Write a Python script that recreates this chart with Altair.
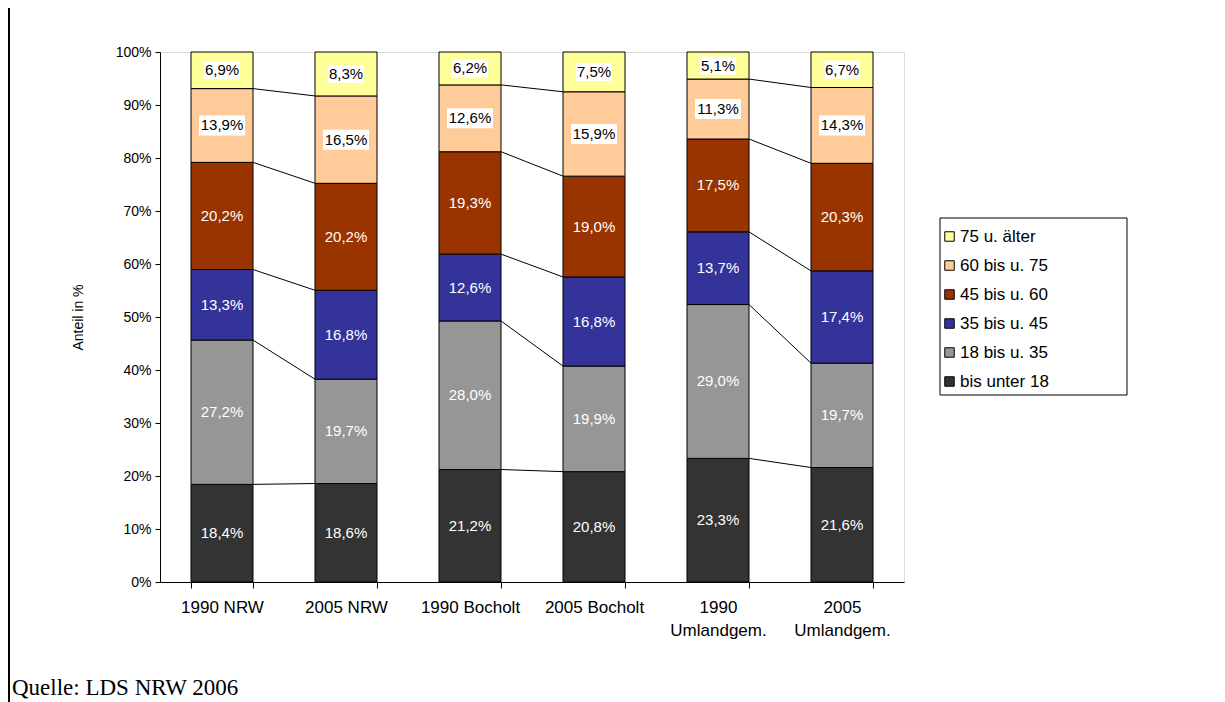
import altair as alt
import pandas as pd

categories = ["1990 NRW", "2005 NRW", "1990 Bocholt", "2005 Bocholt", "1990 Umlandgem.", "2005 Umlandgem."]
groups = ["bis unter 18", "18 bis u. 35", "35 bis u. 45", "45 bis u. 60", "60 bis u. 75", "75 u. älter"]
colors = ["#333333", "#969696", "#333399", "#993300", "#FFCC99", "#FFFF99"]
text_colors = ["#FFFFFF", "#FFFFFF", "#FFFFFF", "#FFFFFF", "#000000", "#000000"]

v_unter18 = [18.4, 18.6, 21.2, 20.8, 23.3, 21.6]
v_18_35 = [27.2, 19.7, 28.0, 19.9, 29.0, 19.7]
v_35_45 = [13.3, 16.8, 12.6, 16.8, 13.7, 17.4]
v_45_60 = [20.2, 20.2, 19.3, 19.0, 17.5, 20.3]
v_60_75 = [13.9, 16.5, 12.6, 15.9, 11.3, 14.3]
v_75 = [6.9, 8.3, 6.2, 7.5, 5.1, 6.7]
series = [v_unter18, v_18_35, v_35_45, v_45_60, v_60_75, v_75]
pairs = [(0, 1), (2, 3), (4, 5)]

# build tables (100 % stacked)
rows = []
tops = {}
for ci, cat in enumerate(categories):
    total = sum(s[ci] for s in series)
    cum = 0.0
    tops[ci] = []
    for gi, g in enumerate(groups):
        v = series[gi][ci]
        y0 = cum / total
        cum += v
        y1 = cum / total
        tops[ci].append(y1)
        lab = f"{v:.1f}".replace(".", ",") + "%"
        rows.append({"cat": cat, "group": g, "y0": y0, "y1": y1, "mid": (y0 + y1) / 2,
                     "label": lab, "tcolor": text_colors[gi], "light": gi >= 4,
                     "wide": len(lab) > 4})
df = pd.DataFrame(rows)

lrows = []
for a, b in pairs:
    for gi in range(len(groups) - 1):
        lrows.append({"from": categories[a], "to": categories[b], "ya": tops[a][gi], "yb": tops[b][gi]})
ldf = pd.DataFrame(lrows)

FONT = "Liberation Sans"
W, H = 744, 530
PADL, PADT, PADB = 152, 44, 128

xscale = alt.Scale(domain=categories, paddingInner=0.5, paddingOuter=0.25)
yscale = alt.Scale(domain=[0, 1], nice=False)

label_expr = "indexof(datum.label, 'Umland') >= 0 ? split(datum.label, ' ') : datum.label"

x_axis = alt.Axis(title=None, labelFont=FONT, labelFontSize=17, labelColor="#000000",
                  labelPadding=11, labelAngle=0, tickSize=6, tickColor="#000000",
                  domainColor="#000000", tickBand="extent", labelExpr=label_expr,
                  labelLineHeight=23, labelBaseline="top")
y_axis = alt.Axis(title="Anteil in %", format=".0%", values=[i / 10 for i in range(11)],
                  labelFont=FONT, labelFontSize=14, labelColor="#000000", tickSize=5,
                  tickColor="#000000", domainColor="#000000", grid=False, labelPadding=4,
                  titleFont=FONT, titleFontSize=14, titleFontWeight="normal",
                  titleColor="#000000", titlePadding=30)

legend_order = list(reversed(groups))
legend_colors = list(reversed(colors))

bars = alt.Chart(df).mark_bar(stroke="#000000", strokeWidth=1).encode(
    x=alt.X("cat:N", scale=xscale, axis=x_axis, sort=categories),
    y=alt.Y("y0:Q", scale=yscale, axis=y_axis),
    y2="y1:Q",
    color=alt.Color("group:N", scale=alt.Scale(domain=legend_order, range=legend_colors),
                    legend=alt.Legend(title=None, orient="none", legendX=781, legendY=176,
                                      symbolType="square", symbolSize=90,
                                      symbolStrokeColor="#000000", symbolStrokeWidth=1,
                                      symbolOpacity=1,
                                      labelFont=FONT, labelFontSize=17, labelColor="#000000",
                                      labelOffset=2, rowPadding=11)),
)

lines = alt.Chart(ldf).mark_rule(color="#000000", strokeWidth=1, xOffset=31, x2Offset=-31).encode(
    x=alt.X("from:N", scale=xscale, sort=categories),
    x2="to:N",
    y=alt.Y("ya:Q", scale=yscale),
    y2="yb:Q",
)

box_narrow = alt.Chart(df).transform_filter("datum.light && !datum.wide").mark_rect(
    color="#FFFFFF", width=36, height=18).encode(
    x=alt.X("cat:N", scale=xscale, sort=categories),
    y=alt.Y("mid:Q", scale=yscale),
)
box_wide = alt.Chart(df).transform_filter("datum.light && datum.wide").mark_rect(
    color="#FFFFFF", width=46, height=20).encode(
    x=alt.X("cat:N", scale=xscale, sort=categories),
    y=alt.Y("mid:Q", scale=yscale),
)

texts = alt.Chart(df).mark_text(font=FONT, fontSize=15, baseline="middle", align="center").encode(
    x=alt.X("cat:N", scale=xscale, sort=categories),
    y=alt.Y("mid:Q", scale=yscale),
    text="label:N",
    color=alt.Color("tcolor:N", scale=None),
)

legend_box = alt.Chart(pd.DataFrame({"k": [0]})).mark_rect(
    fill=None, stroke="#000000", strokeWidth=1).encode(
    x=alt.value(780), x2=alt.value(967), y=alt.value(166), y2=alt.value(343))

src = alt.Chart(pd.DataFrame({"t": ["Quelle: LDS NRW 2006"]})).mark_text(
    font="Liberation Serif", fontSize=23, align="left", baseline="alphabetic", color="#000000").encode(
    x=alt.value(-148), y=alt.value(643), text="t:N")

frame = alt.Chart(pd.DataFrame({"k": [0]})).mark_rule(color="#000000", strokeWidth=2).encode(
    x=alt.value(-151), y=alt.value(-44), y2=alt.value(H + PADB))

chart = alt.layer(bars, lines, box_narrow, box_wide, texts, legend_box, src, frame).properties(
    width=W, height=H, autosize=alt.AutoSizeParams(type="none"),
    padding={"left": PADL, "top": PADT, "right": 300, "bottom": PADB},
).configure_view(stroke="#808080", strokeWidth=1).configure(background="#FFFFFF")

chart.save("out.html", embed_options={"renderer": "svg", "actions": False})
